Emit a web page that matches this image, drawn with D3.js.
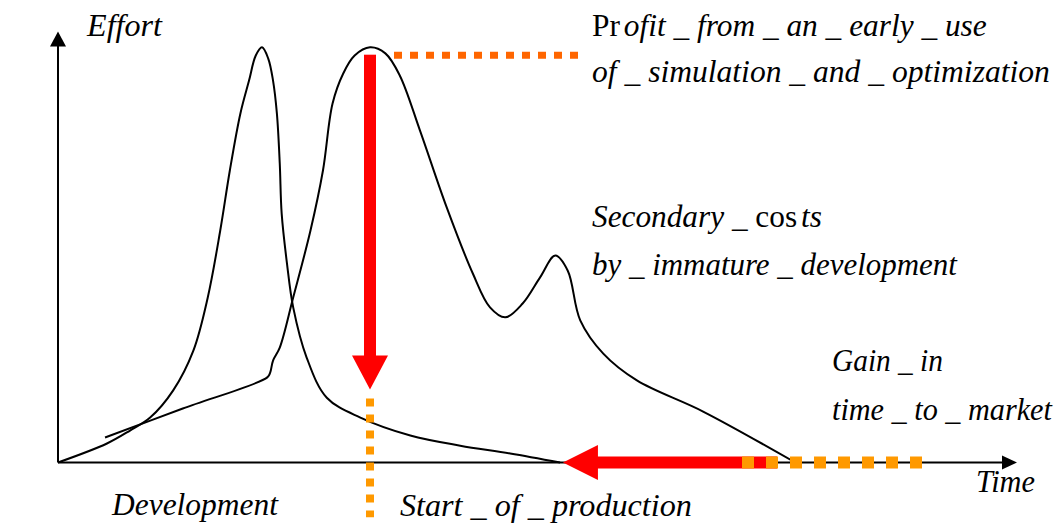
<!DOCTYPE html>
<html>
<head>
  <meta charset="utf-8">
  <title>Effort over time</title>
  <script src="https://d3js.org/d3.v7.min.js"></script>
  <style>
    body { margin: 0; background: #fff; }
    svg { display: block; }
  </style>
</head>
<body>
  <div id="chart"></div>

  <script>
    // development effort curve (time, effort)
    var devTime   = [0, 5.1, 7.5, 9.6, 12.0, 14.1, 15.6, 16.9, 17.9, 19.0, 19.9, 20.6, 21.25, 21.9, 22.4, 22.8, 23.1, 23.3, 23.85, 24.5, 25.9, 28.0, 31.5, 36.7, 41.9, 47.1, 52.3];
    var devEffort = [0, 4.4, 7.4, 10.4, 16.7, 25.9, 38.2, 53.7, 67.6, 80.8, 88.4, 94.2, 96.1, 93.5, 88.4, 80.8, 69.2, 57.6, 46.1, 35.9, 24.3, 15.0, 10.4, 6.25, 3.9, 2.1, 0];

    // secondary costs curve (time, effort)
    var costTime   = [4.9, 13.0, 21.8, 22.1, 22.4, 23.1, 24.5, 26.3, 27.6, 28.6, 29.7, 30.9, 32.5, 34.1, 35.6, 37.7, 40.5, 43.2, 45.0, 46.6, 48.4, 50.2, 51.8, 53.1, 54.4, 56.8, 60.3, 67.2, 76.8];
    var costEffort = [5.8, 12.5, 19.7, 20.8, 23.6, 26.6, 38.2, 53.7, 67.6, 83.1, 90.0, 94.2, 96.1, 94.7, 89.6, 76.9, 59.0, 43.8, 35.9, 33.6, 36.8, 42.8, 47.9, 44.4, 32.9, 25.2, 19.0, 11.8, 0];

    // key moments on the time axis
    var startOfProduction = 32.5;   // red vertical arrow / orange vertical line
    var profitTop = 94.4;           // top of the red vertical arrow
    var profitBottom = 16.9;        // tip of the red vertical arrow
    var gainFrom = 74.9, gainTo = 52.6;   // red horizontal arrow
    var marketDashFrom = 71.25, marketDashTo = 90;  // orange dots on time axis
    var profitDashFrom = 35, profitDashTo = 54.2;   // orange dots at the peak
    var sopDashFrom = 14.8, sopDashTo = -12.7;      // orange vertical dots

    // label lines: [text, italic]
    var labelLines = [
      [["Effort", true]],
      [["Pr", false], ["ofit _ from _ an _ early _ use", true]],
      [["of _ simulation _ and _ optimization", true]],
      [["Secondary _ ", true], ["cos", false], ["ts", true]],
      [["by _ immature _ development", true]],
      [["Gain _ in", true]],
      [["time _ to _ market", true]],
      [["Time", true]],
      [["Development", true]],
      [["Start _ of _ production", true]]
    ];
    // left, baseline, right in pixels
    var labelBoxes = [
      [87, 36, 162],
      [592, 36, 983],
      [592, 82, 1050],
      [592, 227, 818],
      [592, 275, 957],
      [832, 371, 943],
      [832, 420, 1052],
      [976, 492, 1035],
      [112, 515, 278],
      [400, 516, 692]
    ];

    var serif = "'Liberation Serif', 'Times New Roman', serif";

    var W = 1057, H = 523;
    var svg = d3.select("#chart").append("svg")
      .attr("width", W).attr("height", H);

    var x = d3.scaleLinear().domain([0, 100]).range([58, 1018]);
    var y = d3.scaleLinear().domain([0, 100]).range([462.5, 30.5]);

    // axes
    svg.append("line")
      .attr("x1", x(0)).attr("y1", y(0)).attr("x2", x(0)).attr("y2", y(97))
      .attr("stroke", "#000").attr("stroke-width", 2);
    svg.append("path")
      .attr("d", "M" + x(0) + "," + (y(100) + 1) + "l-8,15h16z")
      .attr("fill", "#000");
    svg.append("line")
      .attr("x1", x(0)).attr("y1", y(0)).attr("x2", x(98.5)).attr("y2", y(0))
      .attr("stroke", "#000").attr("stroke-width", 2);
    svg.append("path")
      .attr("d", "M" + (x(100) - 1) + "," + y(0) + "l-15,-7v14z")
      .attr("fill", "#000");

    // curves
    var line = d3.line()
      .x(function(d) { return x(d[0]); })
      .y(function(d) { return y(d[1]); })
      .curve(d3.curveCatmullRom.alpha(0.5));

    svg.append("path")
      .datum(d3.zip(devTime, devEffort))
      .attr("d", line)
      .attr("fill", "none").attr("stroke", "#000").attr("stroke-width", 2);

    svg.append("path")
      .datum(d3.zip(costTime, costEffort))
      .attr("d", line)
      .attr("fill", "none").attr("stroke", "#000").attr("stroke-width", 2);

    // orange dotted lines
    svg.append("line")
      .attr("x1", x(profitDashFrom)).attr("x2", x(profitDashTo))
      .attr("y1", y(profitTop) + 0.5).attr("y2", y(profitTop) + 0.5)
      .attr("stroke", "#ff6600").attr("stroke-width", 7)
      .attr("stroke-dasharray", "8,8");

    svg.append("line")
      .attr("x1", x(startOfProduction)).attr("x2", x(startOfProduction))
      .attr("y1", y(sopDashFrom)).attr("y2", y(sopDashTo))
      .attr("stroke", "#ff9900").attr("stroke-width", 8)
      .attr("stroke-dasharray", "8,8");

    // red vertical arrow
    var vx = x(startOfProduction), vTop = y(profitTop), vTip = y(profitBottom);
    svg.append("rect")
      .attr("x", vx - 6).attr("y", vTop).attr("width", 12).attr("height", vTip - 34 - vTop + 1)
      .attr("fill", "#ff0000");
    svg.append("path")
      .attr("d", "M" + vx + "," + vTip + "l-18,-34h36z")
      .attr("fill", "#ff0000");

    // red horizontal arrow
    var hTip = x(gainTo), hEnd = x(gainFrom), hy = y(0);
    svg.append("rect")
      .attr("x", hTip + 35 - 1).attr("y", hy - 6).attr("width", hEnd - hTip - 34).attr("height", 12)
      .attr("fill", "#ff0000");
    svg.append("path")
      .attr("d", "M" + hTip + "," + hy + "l35,-17.5v35z")
      .attr("fill", "#ff0000");

    svg.append("line")
      .attr("x1", x(marketDashFrom)).attr("x2", x(marketDashTo))
      .attr("y1", hy).attr("y2", hy)
      .attr("stroke", "#ff9900").attr("stroke-width", 12)
      .attr("stroke-dasharray", "12,12");

    // labels
    labelLines.forEach(function(parts, i) {
      var box = labelBoxes[i];
      var t = svg.append("text")
        .attr("x", 0).attr("y", 0)
        .style("font-family", serif)
        .style("font-size", "32px")
        .attr("fill", "#000");
      parts.forEach(function(p, j) {
        t.append("tspan")
          .attr("dx", j > 0 && !parts[j - 1][1] ? 4 : 0)
          .style("font-style", p[1] ? "italic" : "normal")
          .text(p[0]);
      });
      var w = t.node().getComputedTextLength();
      var s = (box[2] - box[0]) / w;
      t.attr("transform", "translate(" + box[0] + "," + box[1] + ") scale(" + s + ",1)");
    });
  </script>
</body>
</html>
